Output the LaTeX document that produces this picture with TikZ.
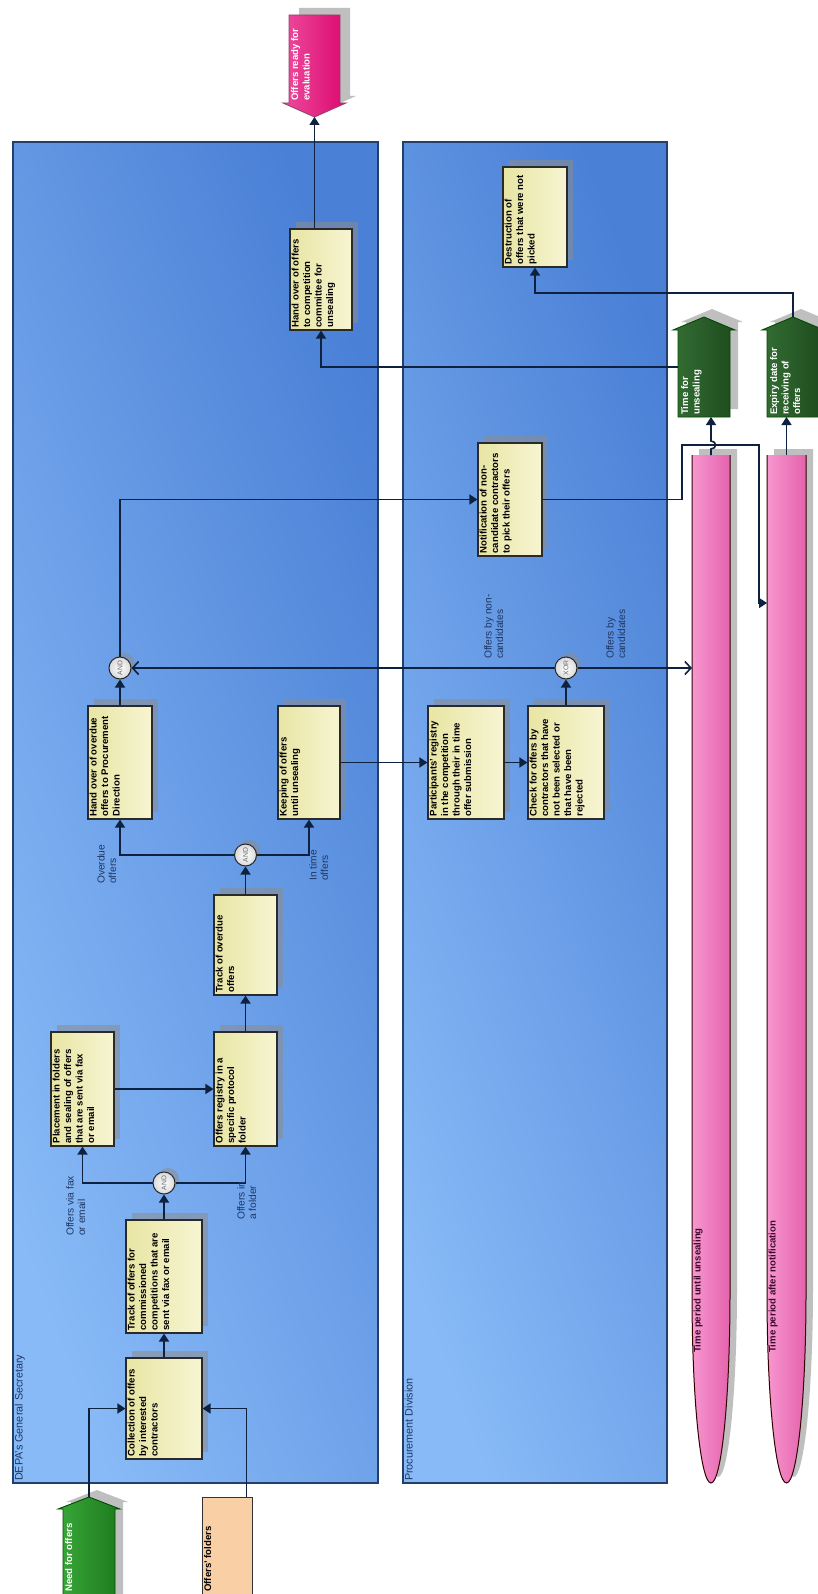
\documentclass[tikz,border=0pt]{standalone}
\usepackage{fontspec}
\usepackage{graphicx}
\setmainfont{Liberation Sans}
\usetikzlibrary{arrows.meta,shadows}
\definecolor{lanel}{HTML}{88BAF7}
\definecolor{laned}{HTML}{4A80D6}
\definecolor{laneb}{HTML}{22406A}
\definecolor{linec}{HTML}{0E2240}
\definecolor{boxl}{HTML}{E8E5A4}
\definecolor{boxr}{HTML}{F7F5D2}
\definecolor{boxb}{HTML}{2A2A2A}
\definecolor{labc}{HTML}{1F3763}
\definecolor{needl}{HTML}{3AA83A}
\definecolor{needr}{HTML}{1C7A1C}
\definecolor{darkgl}{HTML}{346E34}
\definecolor{darkgr}{HTML}{1D4A1D}
\definecolor{magl}{HTML}{EE4A9E}
\definecolor{magr}{HTML}{DB0A6E}
\definecolor{peach}{HTML}{F9CFA5}
\definecolor{pinkl}{HTML}{F797D0}
\definecolor{pinkr}{HTML}{E462AC}
\definecolor{pinkt}{HTML}{3C0B2C}
\definecolor{shadc}{HTML}{8C8C8C}
\begin{document}
\begin{tikzpicture}[x=1pt,y=-1pt,
  lane/.style={draw=laneb,line width=1.2pt,top color=laned,bottom color=lanel,shading angle=-70,inner sep=0pt},
  box/.style={draw=boxb,line width=1.1pt,left color=boxl,right color=boxr,inner sep=0pt,
     drop shadow={shadow xshift=6pt,shadow yshift=7pt,fill=shadc,opacity=0.55}},
  btext/.style={rotate=90,anchor=north west,inner sep=0pt,align=left,text=black,
     font=\bfseries\fontsize{9.6}{11.5}\selectfont},
  elabel/.style={rotate=90,anchor=north west,inner sep=0pt,align=left,text=labc,
     font=\fontsize{10.2}{11.6}\selectfont},
  wtext/.style={rotate=90,anchor=north west,inner sep=0pt,align=left,text=white,
     font=\bfseries\fontsize{9.6}{11.5}\selectfont},
  bartext/.style={rotate=90,anchor=north west,inner sep=0pt,text=pinkt,
     font=\bfseries\fontsize{9.6}{11}\selectfont},
  gate/.style={circle,draw=black!85,line width=1pt,inner color=white,outer color=black!15,
     minimum size=22pt,inner sep=0pt,text=black!60,font=\fontsize{6.8}{7}\selectfont,
     drop shadow={shadow xshift=4pt,shadow yshift=4pt,fill=shadc,opacity=0.55}},
  conn/.style={draw=linec,line width=1.6pt,-{Triangle[width=10pt,length=8pt]}},
  oconn/.style={draw=linec,line width=1.6pt,-{Straight Barb[length=6pt,width=13pt]}},
  anchorbox/.style={inner sep=0pt,outer sep=0pt},
  sh/.style={fill=shadc,opacity=0.55},
]
\path[use as bounding box] (0,0) rectangle (818,1594);
\clip (0,0) rectangle (818,1594);
\fill[white] (0,0) rectangle (818,1594);

% lanes
\node[lane,minimum width=365pt,minimum height=1341pt] (lane1) at (195.5,812.5) {};
\node[lane,minimum width=264pt,minimum height=1341pt] (lane2) at (535,812.5) {};
\node[elabel,font=\fontsize{10.8}{12}\selectfont] (lane1lab) at (14.5,1481) {DEPA's General Secretary};
\node[elabel,font=\fontsize{10.8}{12}\selectfont] (lane2lab) at (404.5,1481) {Procurement Division};

% event shapes
\fill[sh,xshift=8pt,yshift=7pt] (63,1610) -- (63,1509) -- (58,1509) -- (89,1497) -- (120,1509) -- (115,1509) -- (115,1610) -- cycle;
\shade[left color=needl,right color=needr,draw=black!70!green,line width=0.9pt] (63,1610) -- (63,1509) -- (58,1509) -- (89,1497) -- (120,1509) -- (115,1509) -- (115,1610) -- cycle;
\node[anchorbox,minimum width=52pt,minimum height=113pt] (need) at (89,1553.5) {};
\node[wtext] (needtxt) at (65,1592) {Need for offers};

\node[draw=black!80,line width=1pt,fill=peach,minimum width=50pt,minimum height=110pt,inner sep=0pt] (folders) at (227,1552) {};
\node[btext] (folderstxt) at (204,1592) {Offers' folders};

\fill[sh,xshift=8pt,yshift=8pt] (678,417) -- (678,330) -- (673,330) -- (704,317) -- (735,330) -- (730,330) -- (730,417) -- cycle;
\shade[left color=darkgl,right color=darkgr,draw=black!70!green,line width=0.9pt] (678,417) -- (678,330) -- (673,330) -- (704,317) -- (735,330) -- (730,330) -- (730,417) -- cycle;
\node[anchorbox,minimum width=52pt,minimum height=100pt] (timeunseal) at (704,367) {};
\node[wtext] (timetxt) at (681,415) {Time for\\unsealing};

\fill[sh,xshift=8pt,yshift=8pt] (767,417) -- (767,330) -- (762,330) -- (793,317) -- (824,330) -- (819,330) -- (819,417) -- cycle;
\shade[left color=darkgl,right color=darkgr,draw=black!70!green,line width=0.9pt] (767,417) -- (767,330) -- (762,330) -- (793,317) -- (824,330) -- (819,330) -- (819,417) -- cycle;
\node[anchorbox,minimum width=52pt,minimum height=100pt] (expiry) at (793,367) {};
\node[wtext] (expirytxt) at (770,415) {Expiry date for\\receiving of\\offers};

\fill[sh,xshift=10pt,yshift=7pt] (289,15) -- (340,15) -- (340,103) -- (346,103) -- (314.5,117) -- (283,103) -- (289,103) -- cycle;
\shade[left color=magl,right color=magr,draw=black!50!magenta,line width=0.9pt] (289,15) -- (340,15) -- (340,103) -- (346,103) -- (314.5,117) -- (283,103) -- (289,103) -- cycle;
\node[anchorbox,minimum width=51pt,minimum height=102pt] (evalready) at (314.5,66) {};
\node[wtext] (evaltxt) at (291,101) {Offers ready for\\evaluation};

% time bars
\fill[sh,xshift=7pt,yshift=6pt] (692,455) -- (692,1293) .. controls (692,1398) and (700.5,1483) .. (711,1483) .. controls (721.5,1483) and (730,1398) .. (730,1293) -- (730,455) -- cycle;
\shade[left color=pinkl,right color=pinkr] (692,455) -- (692,1293) .. controls (692,1398) and (700.5,1483) .. (711,1483) .. controls (721.5,1483) and (730,1398) .. (730,1293) -- (730,455) -- cycle;
\draw[black!80!red,line width=1pt] (692,455) -- (692,1293) .. controls (692,1398) and (700.5,1483) .. (711,1483) .. controls (721.5,1483) and (730,1398) .. (730,1293) -- (730,455);
\node[anchorbox,minimum width=38pt,minimum height=1028pt] (bar1) at (711,969) {};
\node[bartext] (bar1txt) at (693.5,1353) {Time period until unsealing};

\fill[sh,xshift=7pt,yshift=6pt] (767,455) -- (767,1293) .. controls (767,1398) and (775.8,1483) .. (786.5,1483) .. controls (797.2,1483) and (806,1398) .. (806,1293) -- (806,455) -- cycle;
\shade[left color=pinkl,right color=pinkr] (767,455) -- (767,1293) .. controls (767,1398) and (775.8,1483) .. (786.5,1483) .. controls (797.2,1483) and (806,1398) .. (806,1293) -- (806,455) -- cycle;
\draw[black!80!red,line width=1pt] (767,455) -- (767,1293) .. controls (767,1398) and (775.8,1483) .. (786.5,1483) .. controls (797.2,1483) and (806,1398) .. (806,1293) -- (806,455);
\node[anchorbox,minimum width=39pt,minimum height=1028pt] (bar2) at (786.5,969) {};
\node[bartext] (bar2txt) at (768.5,1353) {Time period after notification};

% function boxes
\node[box,minimum width=76pt,minimum height=101pt] (collect) at (164,1408.5) {};
\node[box,minimum width=76pt,minimum height=113pt] (trackc) at (164,1276.5) {};
\node[box,minimum width=63pt,minimum height=114pt] (place) at (82.5,1089) {};
\node[box,minimum width=63pt,minimum height=114pt] (registry) at (245.5,1089) {};
\node[box,minimum width=63pt,minimum height=100pt] (trackod) at (245.5,945) {};
\node[box,minimum width=64pt,minimum height=113pt] (handod) at (120,762.5) {};
\node[box,minimum width=62pt,minimum height=113pt] (keep) at (309,762.5) {};
\node[box,minimum width=76pt,minimum height=113pt] (partic) at (466,762.5) {};
\node[box,minimum width=76pt,minimum height=113pt] (check) at (566,762.5) {};
\node[box,minimum width=64pt,minimum height=113pt] (notify) at (510,499.5) {};
\node[box,minimum width=62pt,minimum height=101pt] (handcomp) at (321,279.5) {};
\node[box,minimum width=64pt,minimum height=100pt] (destroy) at (535,217) {};

\node[btext] (t1) at ([xshift=2pt,yshift=3pt]collect.south west) {Collection of offers\\by interested\\contractors};
\node[btext] (t2) at ([xshift=2pt,yshift=3pt]trackc.south west) {Track of offers for\\commissioned\\competitions that are\\sent via fax or email};
\node[btext] (t3) at ([xshift=2pt,yshift=3pt]place.south west) {Placement in folders\\and sealing of offers\\that are sent via fax\\or email};
\node[btext] (t4) at ([xshift=2pt,yshift=3pt]registry.south west) {Offers registry in a\\specific protocol\\folder};
\node[btext] (t5) at ([xshift=2pt,yshift=3pt]trackod.south west) {Track of overdue\\offers};
\node[btext] (t6) at ([xshift=2pt,yshift=3pt]handod.south west) {Hand over of overdue\\offers to Procurement\\Direction};
\node[btext] (t7) at ([xshift=2pt,yshift=3pt]keep.south west) {Keeping of offers\\until unsealing};
\node[btext] (t8) at ([xshift=2pt,yshift=3pt]partic.south west) {Participants' registry\\in the competition\\through their in time\\offer submission};
\node[btext] (t9) at ([xshift=2pt,yshift=3pt]check.south west) {Check for offers by\\contractors that have\\not been selected or\\that have been\\rejected};
\node[btext] (t10) at ([xshift=2pt,yshift=3pt]notify.south west) {Notification of non-\\candidate contractors\\to pick their offers};
\node[btext] (t11) at ([xshift=2pt,yshift=3pt]handcomp.south west) {Hand over of offers\\to competition\\committee for\\unsealing};
\node[btext] (t12) at ([xshift=2pt,yshift=3pt]destroy.south west) {Destruction of\\offers that were not\\picked};

% gates
\node[gate] (and1) at (164,1183) {\rotatebox{90}{AND}};
\node[gate] (and2) at (245.5,855) {\rotatebox{90}{AND}};
\node[gate] (and3) at (120,668) {\rotatebox{90}{AND}};
\node[gate] (xor) at (566,668) {\rotatebox{90}{XOR}};

% connectors
\draw[conn] (need.north) |- (collect.west);
\draw[conn] ([xshift=-6pt]folders.north east) |- (collect.east);
\draw[conn] (collect.north) -- (trackc.south);
\draw[conn] (trackc.north) -- (and1.south);
\draw[conn] (and1.west) -| (place.south);
\draw[conn] (and1.east) -| (registry.south);
\draw[conn] (place.east) -- (registry.west);
\draw[conn] (registry.north) -- (trackod.south);
\draw[conn] (trackod.north) -- (and2.south);
\draw[conn] (and2.west) -| (handod.south);
\draw[conn] (and2.east) -| (keep.south);
\draw[conn] (keep.east) -- (partic.west);
\draw[conn] (partic.east) -- (check.west);
\draw[conn] (check.north) -- (xor.south);
\draw[conn] (handod.north) -- (and3.south);
\draw[oconn] (xor.west) -- (and3.east);
\coordinate (bar1in) at (bar1.west |- xor.east);
\draw[oconn] (xor.east) -- (bar1in);
\draw[conn] (and3.north) |- (notify.west);
\coordinate (n1) at (682,445);
\coordinate (n2) at (759,445);
\coordinate (bar2in) at (767,603);
\draw[conn] (notify.east) -| (n1) -- (n2) |- (bar2in);
\draw[conn] (bar1.north) -- (711,449) .. controls (717,449) and (717,441) .. (711,441) -- (bar1.north |- timeunseal.south);
\draw[conn] (bar2.north) -- (bar2.north |- expiry.south);
\draw[conn] (timeunseal.west) -| (handcomp.south);
\coordinate (dj) at (535,293);
\draw[conn] (expiry.north) |- (dj) -- (destroy.south);
\draw[conn] (evalready.south |- handcomp.north) -- (evalready.south);

% edge labels
\node[elabel] (l1) at (66,1236) {Offers via fax\\or email};
\node[elabel] (l2) at (237,1220) {Offers in\\a folder};
\node[elabel] (l3) at (97,884) {Overdue\\offers};
\node[elabel] (l4) at (309,881) {In time\\offers};
\node[elabel] (l5) at (484,659) {Offers by non-\\candidates};
\node[elabel] (l6) at (606,659) {Offers by\\candidates};
\end{tikzpicture}
\end{document}
